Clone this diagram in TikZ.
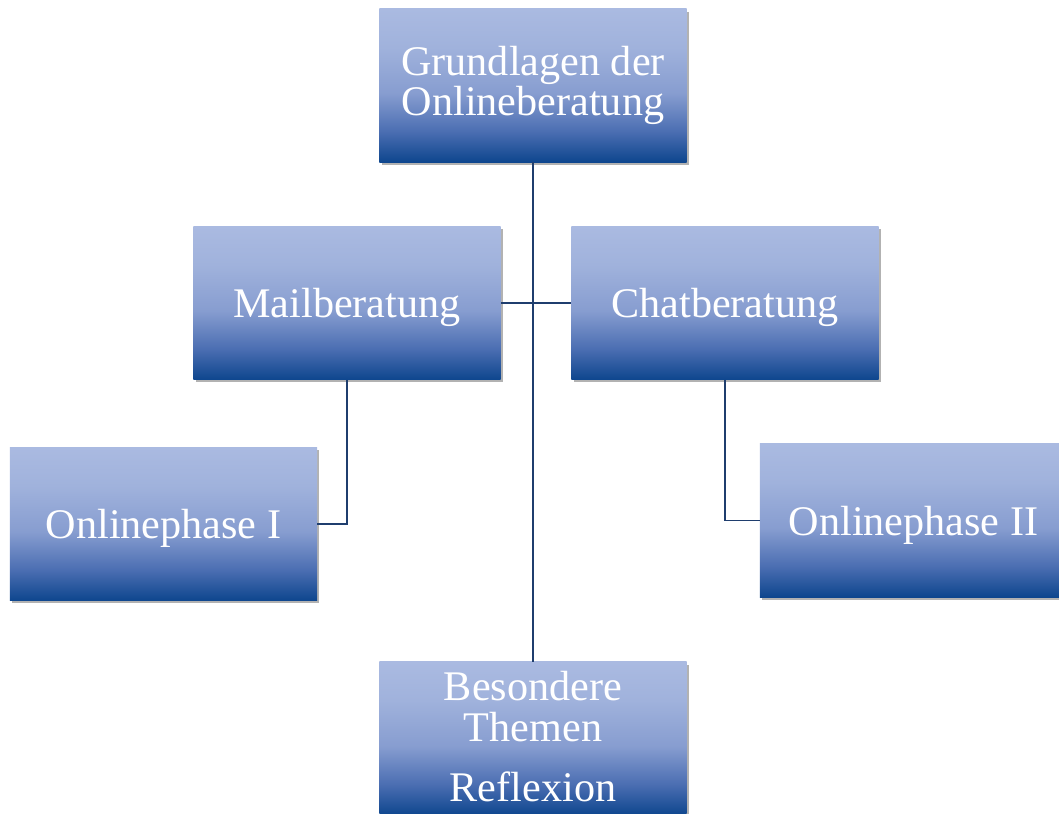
\documentclass[tikz,border=0pt]{standalone}
\usepackage{fontspec}
\setmainfont{Liberation Serif}
\usetikzlibrary{shadows}
\definecolor{boxdark}{RGB}{14,70,142}
\definecolor{boxmid}{RGB}{75,110,178}
\definecolor{boxhalf}{RGB}{135,157,208}
\definecolor{boxupper}{RGB}{160,178,220}
\definecolor{boxlight}{RGB}{170,186,225}
\definecolor{linkblue}{RGB}{31,62,110}
\pgfdeclareverticalshading{boxgrad}{100bp}{color(0bp)=(boxdark); color(25bp)=(boxdark);
  color(35bp)=(boxmid); color(47.5bp)=(boxhalf); color(62.5bp)=(boxupper);
  color(75bp)=(boxlight); color(100bp)=(boxlight)}
\begin{document}
\begin{tikzpicture}[x=0.025cm,y=-0.025cm,
  topic/.style={rectangle,inner sep=0pt,minimum width=7.675cm,minimum height=3.825cm,
    shading=boxgrad,text=white,align=center,
    font=\fontsize{30}{29}\selectfont,
    drop shadow={shadow xshift=1.5pt,shadow yshift=-2pt,fill=black,opacity=0.3}},
  link/.style={draw=linkblue,line width=1.4pt}]
  \useasboundingbox (0,0) rectangle (1059,814);
  \node[topic] (grund) at (533,85.5) {Grundlagen der\\Onlineberatung};
  \node[topic,text depth=0pt] (mail)  at (347,303)  {Mailberatung};
  \node[topic,text depth=0pt] (chat)  at (725,303)  {Chatberatung};
  \node[topic,text depth=0pt] (on1)   at (163.5,524) {Onlinephase I};
  \node[topic,text depth=0pt] (on2)   at (913.5,520.5) {Onlinephase II};
  \node[topic] (them)  at (533,738.5) {};
  \node[text=white,align=center,inner sep=0pt,anchor=north,
    font=\fontsize{30}{29}\selectfont] (themtxt) at (533,671)
    {Besondere\\Themen\\[14pt]Reflexion};
%%%
  \draw[link] (grund.south) -- (them.north);
  \draw[link] (mail.east) -- (chat.west);
  \draw[link] (mail.south) |- (on1.east);
  \draw[link] (chat.south) |- (on2.west);
\end{tikzpicture}
\end{document}
